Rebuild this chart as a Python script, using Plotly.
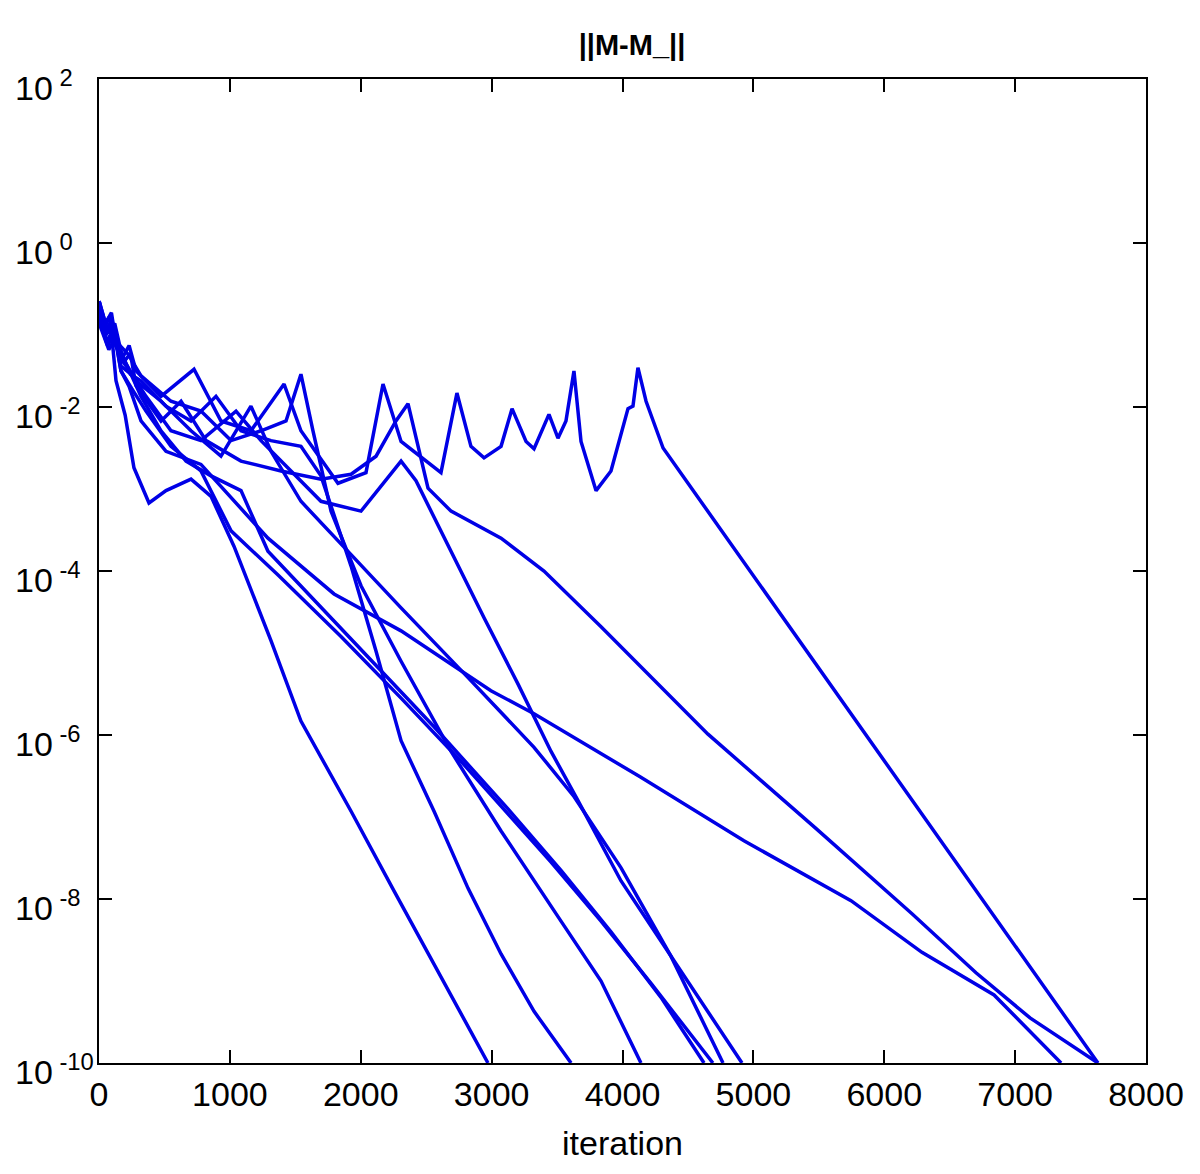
import plotly.graph_objects as go

# iteration numbers and log10(||M-M_||), one pair per run
run1_iter = [1, 40, 80, 130, 180, 230, 283, 474, 726, 932, 1161, 1414, 1543, 1826, 2040, 2170, 2308, 2613, 2735, 2842, 2942, 3072, 3156, 3263, 3324, 3438, 3507, 3568, 3629, 3683, 3798, 3912, 4042, 4080, 4118, 4180, 4310, 7633]
run1_log = [-0.71, -1.00, -0.90, -1.13, -1.40, -1.25, -1.56, -1.87, -1.54, -2.17, -2.29, -1.72, -2.29, -2.93, -2.80, -1.72, -2.42, -2.80, -1.83, -2.48, -2.62, -2.48, -2.02, -2.42, -2.51, -2.09, -2.38, -2.17, -1.56, -2.42, -3.02, -2.78, -2.02, -1.99, -1.52, -1.93, -2.50, -10.0]

run2_iter = [1, 50, 100, 130, 190, 240, 283, 474, 627, 818, 1085, 1391, 1696, 1926, 2117, 2269, 2361, 2514, 2690, 3072, 3400, 3836, 4653, 5471, 6212, 6701, 7114, 7633]
run2_log = [-0.83, -1.05, -0.95, -1.26, -1.45, -1.35, -1.74, -2.17, -1.93, -2.41, -2.66, -2.78, -2.88, -2.82, -2.60, -2.17, -1.96, -2.99, -3.27, -3.60, -4.00, -4.68, -5.99, -7.13, -8.18, -8.90, -9.45, -10.0]

run3_iter = [1, 60, 110, 168, 230, 321, 512, 779, 1291, 1796, 2308, 2995, 3324, 3836, 4134, 4928, 5746, 6288, 6839, 7351]
run3_log = [-0.89, -1.20, -1.05, -1.56, -1.75, -2.17, -2.54, -2.70, -3.60, -4.28, -4.73, -5.46, -5.74, -6.22, -6.51, -7.29, -8.02, -8.65, -9.17, -10.0]

run4_iter = [1, 45, 90, 130, 200, 267, 382, 512, 703, 856, 1032, 1314, 1543, 1926, 2254, 2613, 2972]
run4_log = [-0.77, -1.15, -1.00, -1.68, -2.10, -2.74, -3.17, -3.02, -2.88, -3.09, -3.70, -4.85, -5.83, -6.93, -7.90, -8.94, -10.0]

run5_iter = [1, 70, 120, 168, 240, 321, 512, 703, 894, 1085, 1314, 1543, 1696, 1926, 2117, 2308, 2560, 2820, 3072, 3324, 3607]
run5_log = [-0.71, -1.10, -0.98, -1.32, -1.60, -1.68, -1.99, -2.17, -1.87, -2.29, -2.41, -2.48, -2.84, -3.94, -4.98, -6.07, -6.93, -7.87, -8.67, -9.37, -10.0]

run6_iter = [1, 55, 110, 153, 230, 321, 474, 665, 856, 1085, 1291, 1673, 2055, 2560, 3125, 3530, 3912, 4294, 4623]
run6_log = [-0.85, -1.10, -1.00, -1.38, -1.55, -1.87, -2.29, -2.66, -2.84, -3.02, -3.76, -4.40, -5.05, -5.90, -6.90, -7.65, -8.40, -9.20, -10.0]

run7_iter = [1, 65, 120, 168, 260, 359, 550, 779, 1009, 1368, 1849, 2308, 2766, 3454, 3836, 4218, 4691]
run7_log = [-0.93, -1.25, -1.10, -1.56, -1.80, -2.05, -2.48, -2.78, -3.51, -4.05, -4.80, -5.55, -6.32, -7.55, -8.27, -9.03, -10.0]

run8_iter = [1, 35, 85, 130, 210, 283, 474, 703, 932, 1161, 1314, 1543, 1926, 2308, 2820, 3324, 3629, 3989, 4371, 4768]
run8_log = [-0.80, -1.02, -0.92, -1.26, -1.48, -1.68, -1.93, -2.29, -2.60, -1.99, -2.54, -3.15, -3.80, -4.45, -5.30, -6.15, -6.75, -7.62, -8.70, -10.0]

run9_iter = [1, 75, 125, 168, 260, 359, 550, 779, 1047, 1238, 1467, 1696, 2002, 2308, 2422, 2690, 2942, 3202, 3454, 3660, 3989, 4447, 4913]
run9_log = [-0.98, -1.30, -1.15, -1.50, -1.62, -1.87, -2.29, -2.41, -2.05, -2.41, -2.78, -3.15, -3.27, -2.66, -2.90, -3.76, -4.57, -5.38, -6.20, -6.80, -7.78, -8.88, -10.0]

run10_iter = [1, 50, 95, 130, 220, 321, 550, 779, 1009, 1238, 1429, 1543, 1635, 1773, 2002, 2308, 2690, 3072, 3530, 3836, 4141]
run10_log = [-0.71, -0.98, -0.85, -1.20, -1.35, -1.62, -1.93, -2.05, -2.41, -2.29, -2.17, -1.60, -2.29, -3.27, -4.18, -5.10, -6.20, -7.17, -8.27, -9.00, -10.0]

runs = [
    (run1_iter, run1_log), (run2_iter, run2_log), (run3_iter, run3_log),
    (run4_iter, run4_log), (run5_iter, run5_log), (run6_iter, run6_log),
    (run7_iter, run7_log), (run8_iter, run8_log), (run9_iter, run9_log),
    (run10_iter, run10_log),
]

x_ticks = [0, 1000, 2000, 3000, 4000, 5000, 6000, 7000, 8000]
y_exponents = [2, 0, -2, -4, -6, -8, -10]

FONT = "Liberation Sans, Arial, sans-serif"
LINE_COLOR = "#0000e6"

fig = go.Figure()
for it, lg in runs:
    fig.add_trace(go.Scatter(
        x=it, y=[10 ** v for v in lg], mode="lines",
        line=dict(color=LINE_COLOR, width=3.5), showlegend=False,
        hoverinfo="skip",
    ))

axis_common = dict(
    showgrid=False, zeroline=False, showline=True, linecolor="black",
    linewidth=2, mirror="ticks", ticks="inside", ticklen=13, tickwidth=1.5,
    tickcolor="black", automargin=False,
)

# y tick labels: left-aligned "10" with a superscript exponent, as in the reference
for e in y_exponents:
    fig.add_annotation(
        xref="paper", yref="y", x=-0.0821, y=e, xanchor="left", yanchor="middle",
        yshift=-6, showarrow=False,
        text="10<sup> %d</sup>" % e,
        font=dict(family=FONT, size=34, color="black"),
    )

fig.update_layout(
    width=1192, height=1166,
    margin=dict(l=91, r=54, t=71, b=111),
    paper_bgcolor="white", plot_bgcolor="white",
    title=dict(text="<b>||M-M_||</b>", xref="paper", x=(631 - 98) / 1047, xanchor="center",
               y=1 - 37 / 1166, yanchor="middle",
               font=dict(family=FONT, size=29, color="black")),
    xaxis=dict(range=[0, 8000], tickvals=x_ticks,
               ticktext=[str(v) for v in x_ticks],
               tickfont=dict(family=FONT, size=34, color="black"),
               title=dict(text="iteration", font=dict(family=FONT, size=34, color="black"),
                          standoff=19),
               **axis_common),
    yaxis=dict(type="log", range=[-10, 2],
               tickvals=[10 ** e for e in y_exponents],
               showticklabels=False,
               **axis_common),
)

fig.write_html("out.html")
